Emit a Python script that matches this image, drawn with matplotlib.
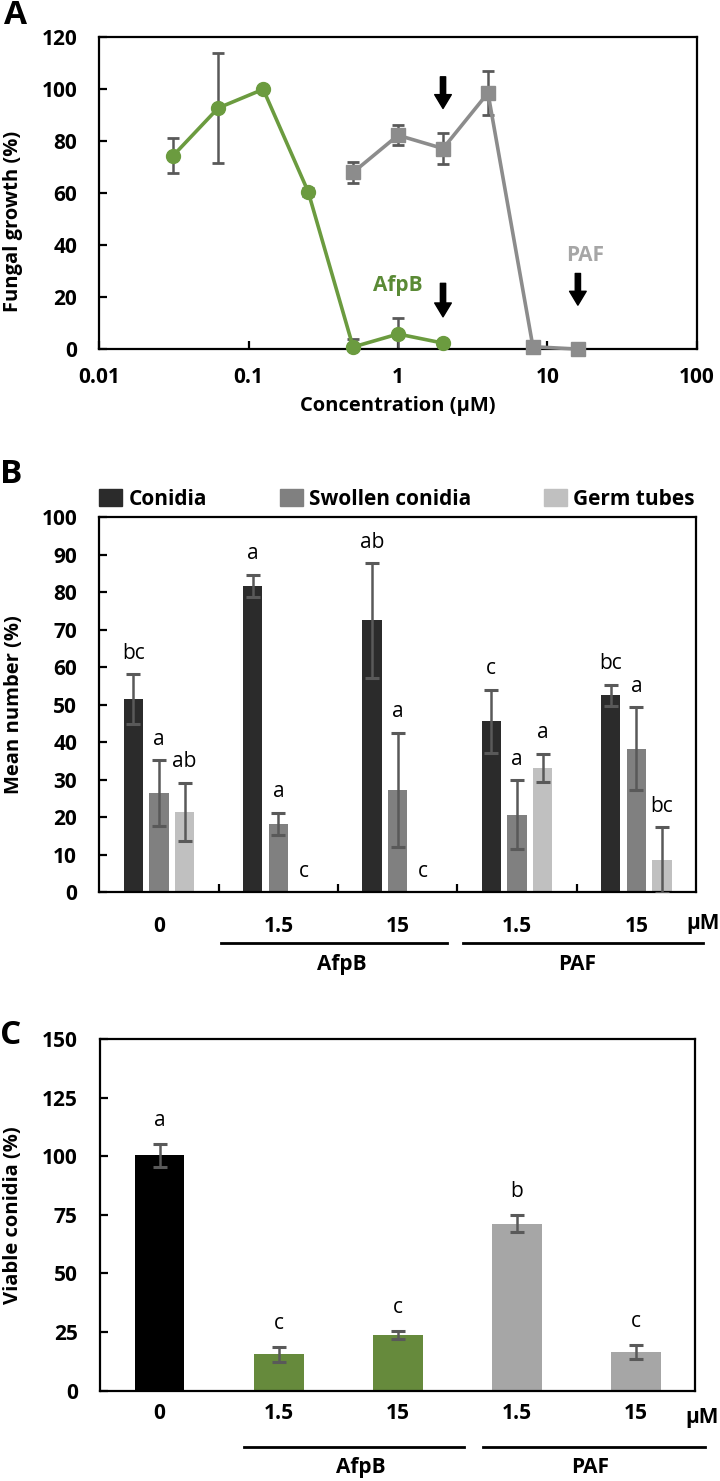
import numpy as np
import matplotlib
matplotlib.use('Agg')
import matplotlib.pyplot as plt
from matplotlib.patches import Patch

plt.rcParams['font.family'] = ['Open Sans', 'DejaVu Sans']
plt.rcParams['font.weight'] = 'bold'

# panel A: growth curves
afpb_conc = [0.03125, 0.0625, 0.125, 0.25, 0.5, 1, 2]
afpb_growth = [74.5, 92.8, 100.0, 60.6, 0.8, 5.8, 2.3]
afpb_err = [6.7, 21.0, 0.5, 1.5, 3.0, 6.2, 0.7]
paf_conc = [0.5, 1, 2, 4, 8, 16]
paf_growth = [68.0, 82.3, 77.2, 98.6, 0.9, 0.0]
paf_err = [4.0, 3.8, 6.0, 8.5, 1.0, 0.5]

# panel B: morphology
groups = ['0', '1.5', '15', '1.5', '15']
conidia = [51.5, 81.7, 72.5, 45.6, 52.5]
conidia_err = [6.7, 3.0, 15.3, 8.4, 2.9]
conidia_let = ['bc', 'a', 'ab', 'c', 'bc']
swollen = [26.5, 18.2, 27.4, 20.7, 38.3]
swollen_err = [8.7, 3.0, 15.2, 9.2, 11.0]
swollen_let = ['a', 'a', 'a', 'a', 'a']
germ = [21.4, 0.0, 0.0, 33.2, 8.5]
germ_err = [7.8, 0.0, 0.0, 3.7, 8.8]
germ_let = ['ab', 'c', 'c', 'a', 'bc']

# panel C: viability
viable = [100.3, 15.5, 23.6, 71.2, 16.4]
viable_err = [5.0, 3.1, 1.7, 3.7, 3.1]
viable_let = ['a', 'c', 'c', 'b', 'c']

green = '#6b9b3f'
grey = '#8c8c8c'
errc = '#595959'
tick_fs = 15
lab_fs = 14.5

fig = plt.figure(figsize=(7.2, 14.81), dpi=100)

def frame(ax):
    for s in ax.spines.values():
        s.set_linewidth(1.6)
        s.set_color('black')

# ---------------- A
axA = fig.add_axes([0.138, 0.7643, 0.8297, 0.2105])
axA.errorbar(afpb_conc, afpb_growth, yerr=afpb_err, fmt='none', ecolor=errc,
             elinewidth=1.8, capsize=4.5, capthick=2, zorder=2)
axA.errorbar(paf_conc, paf_growth, yerr=paf_err, fmt='none', ecolor=errc,
             elinewidth=1.8, capsize=4.5, capthick=2, zorder=2)
axA.plot(afpb_conc, afpb_growth, color=green, lw=2.6, marker='o', ms=10, zorder=3, clip_on=False)
axA.plot(paf_conc, paf_growth, color=grey, lw=2.6, marker='s', ms=9.5, zorder=3, clip_on=False)
axA.set_xscale('log')
axA.set_xlim(0.01, 100)
axA.set_ylim(0, 120)
axA.set_xticks([0.01, 0.1, 1, 10, 100])
axA.set_xticklabels(['0.01', '0.1', '1', '10', '100'])
axA.minorticks_off()
axA.set_yticks(range(0, 121, 20))
axA.tick_params(axis='x', direction='in', length=6, width=1.6, labelsize=tick_fs, pad=13)
axA.tick_params(axis='y', direction='in', length=6, width=1.6, labelsize=tick_fs, pad=16)
axA.set_xlabel('Concentration (μM)', fontsize=lab_fs, fontweight='bold', labelpad=6)
axA.set_ylabel('Fungal growth (%)', fontsize=lab_fs, fontweight='bold')
axA.yaxis.set_label_coords(-0.127, 0.41)
frame(axA)
arrow = dict(width=3.8, headwidth=12, headlength=10, color='black', shrink=0)
axA.annotate('', xy=(2, 92.6), xytext=(2, 104.8), arrowprops=arrow)
axA.annotate('', xy=(2, 12.4), xytext=(2, 25.3), arrowprops=arrow)
axA.annotate('', xy=(16, 16.9), xytext=(16, 29.1), arrowprops=arrow)
axA.text(1.0, 24.6, 'AfpB', color='#5a8a35', fontsize=15, fontweight='bold', ha='center', va='center')
axA.text(17.9, 36.2, 'PAF', color='#a6a6a6', fontsize=15, fontweight='bold', ha='center', va='center')

# ---------------- B
axB = fig.add_axes([0.138, 0.3975, 0.8287, 0.2532])
x = np.arange(len(groups))
w = 0.16
off = 0.215
series = [(conidia, conidia_err, conidia_let, '#2b2b2b', 'Conidia'),
          (swollen, swollen_err, swollen_let, '#808080', 'Swollen conidia'),
          (germ, germ_err, germ_let, '#c0c0c0', 'Germ tubes')]
for k, (vals, errs, lets, col, name) in enumerate(series):
    xs = x + (k - 1) * off
    axB.bar(xs, vals, width=w, color=col, zorder=2)
    for xi, v, e, l in zip(xs, vals, errs, lets):
        if e > 0:
            axB.errorbar(xi, v, yerr=e, fmt='none', ecolor=errc, elinewidth=1.8,
                         capsize=5, capthick=2.2, zorder=3)
        axB.text(xi, v + e + 2.8, l, ha='center', va='bottom', fontsize=15,
                 fontweight='normal', color='black')
axB.set_xlim(-0.5, 4.5)
axB.set_ylim(0, 100)
axB.set_yticks(range(0, 101, 10))
axB.set_xticks(x)
axB.set_xticklabels(groups)
axB.set_xticks([0.5, 1.5, 2.5, 3.5], minor=True)
axB.tick_params(axis='x', which='major', length=0, labelsize=tick_fs, pad=17)
axB.tick_params(axis='x', which='minor', direction='in', length=6, width=1.6)
axB.tick_params(axis='y', direction='in', length=6, width=1.6, labelsize=tick_fs, pad=16)
axB.set_ylabel('Mean number (%)', fontsize=lab_fs, fontweight='bold')
axB.yaxis.set_label_coords(-0.127, 0.5)
frame(axB)
handles = [Patch(color=s[3], label=s[4]) for s in series]
axB.legend(handles=handles, loc='lower left', bbox_to_anchor=(0, 1.02), ncol=3,
           frameon=False, fontsize=15, handlelength=1.1, handleheight=0.85,
           handletextpad=0.3, columnspacing=3.5, borderpad=0, borderaxespad=0)
tr = axB.get_xaxis_transform()
axB.plot([0.52, 2.41], [-0.134, -0.134], color='black', lw=2, transform=tr, clip_on=False)
axB.plot([2.55, 4.56], [-0.134, -0.134], color='black', lw=2, transform=tr, clip_on=False)
axB.text(1.53, -0.192, 'AfpB', transform=tr, ha='center', va='center', fontsize=tick_fs)
axB.text(3.5, -0.192, 'PAF', transform=tr, ha='center', va='center', fontsize=tick_fs)
axB.text(4.56, -0.082, 'μM', transform=tr, ha='center', va='center', fontsize=tick_fs)

# ---------------- C
axC = fig.add_axes([0.1389, 0.061, 0.8264, 0.2375])
ccols = ['black', '#668a3c', '#668a3c', '#a6a6a6', '#a6a6a6']
axC.bar(x, viable, width=0.42, color=ccols, zorder=2)
axC.errorbar(x, viable, yerr=viable_err, fmt='none', ecolor=errc, elinewidth=1.8,
             capsize=5, capthick=2.2, zorder=3)
for xi, v, e, l in zip(x, viable, viable_err, viable_let):
    axC.text(xi, v + e + 5.5, l, ha='center', va='bottom', fontsize=15,
             fontweight='normal', color='black')
axC.set_xlim(-0.5, 4.5)
axC.set_ylim(0, 150)
axC.set_yticks(range(0, 151, 25))
axC.set_xticks(x)
axC.set_xticklabels(groups)
axC.tick_params(axis='x', length=0, labelsize=tick_fs, pad=9)
axC.tick_params(axis='y', direction='in', length=6, width=1.6, labelsize=tick_fs, pad=16)
axC.set_ylabel('Viable conidia (%)', fontsize=lab_fs, fontweight='bold')
axC.yaxis.set_label_coords(-0.13, 0.5)
frame(axC)
tr = axC.get_xaxis_transform()
axC.plot([0.71, 2.56], [-0.159, -0.159], color='black', lw=2, transform=tr, clip_on=False)
axC.plot([2.72, 4.58], [-0.159, -0.159], color='black', lw=2, transform=tr, clip_on=False)
axC.text(1.69, -0.219, 'AfpB', transform=tr, ha='center', va='center', fontsize=tick_fs)
axC.text(3.62, -0.219, 'PAF', transform=tr, ha='center', va='center', fontsize=tick_fs)
axC.text(4.56, -0.075, 'μM', transform=tr, ha='center', va='center', fontsize=tick_fs)

# panel letters
fig.text(15 / 720, 1 - 15 / 1481, 'A', fontsize=24, fontweight='bold', ha='center', va='center')
fig.text(11 / 720, 1 - 475 / 1481, 'B', fontsize=24, fontweight='bold', ha='center', va='center')
fig.text(11 / 720, 1 - 1035 / 1481, 'C', fontsize=24, fontweight='bold', ha='center', va='center')

fig.savefig('out.png', dpi=100)
